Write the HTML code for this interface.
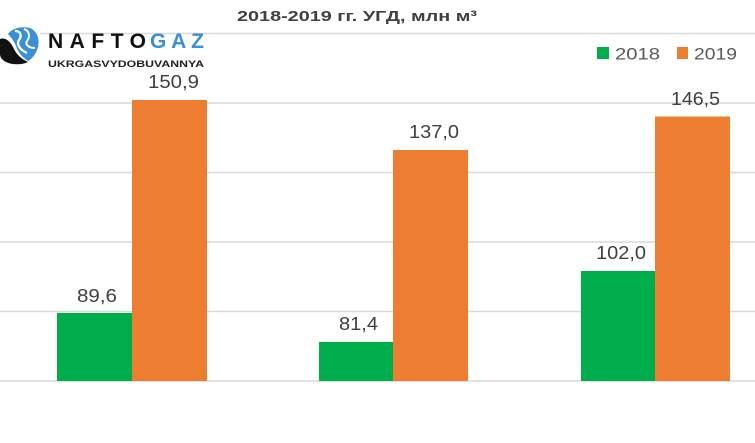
<!DOCTYPE html>
<html><head><meta charset="utf-8"><style>
html,body{margin:0;padding:0;background:#fff;}
svg{display:block;}
</style></head><body>
<svg width="755" height="443" viewBox="0 0 755 443" xmlns="http://www.w3.org/2000/svg">
<rect width="755" height="443" fill="#fff"/>
<g stroke="#d9d9d9" stroke-width="1.5">
<line x1="0" y1="33.5" x2="755" y2="33.5"/>
<line x1="0" y1="103" x2="755" y2="103"/>
<line x1="0" y1="172.5" x2="755" y2="172.5"/>
<line x1="0" y1="242" x2="755" y2="242"/>
<line x1="0" y1="311.5" x2="755" y2="311.5"/>
<line x1="0" y1="381" x2="755" y2="381"/>
</g>
<text x="357" y="21" text-anchor="middle" font-family="Liberation Sans, sans-serif" font-weight="bold" font-size="15" fill="#404040" textLength="240" lengthAdjust="spacingAndGlyphs">2018-2019 гг. УГД, млн м³</text>
<!-- logo -->
<rect x="0" y="27" width="40" height="38" fill="#fff"/>
<g>
<path d="M0 39 C5 37 10 41 13 47 C16 54 21 59 28 62 C22 65 12 65 6 62 C2 60 0 57 0 54 Z" fill="#111"/>
<path d="M8 34 C12 28 22 26 30 28 C37 31 40 39 38 47 C36 54 32 59 28 61 C22 57 18 52 16 46 C14 41 11 37 8 34 Z" fill="#3a8fd6"/>
<path d="M15 31 C21 31 22 36 19 40 C16 44 20 50 27 53" fill="none" stroke="#fff" stroke-width="2.3"/>
<path d="M24 29 C30 31 30 37 27 41 C25 44 28 48 35 48" fill="none" stroke="#fff" stroke-width="2"/>
</g>
<text x="48" y="48" font-family="Liberation Sans, sans-serif" font-weight="bold" font-size="21" fill="#111" textLength="98" lengthAdjust="spacing">NAFTO</text>
<text x="150" y="48" font-family="Liberation Sans, sans-serif" font-weight="bold" font-size="21" fill="#3a8fd6" textLength="54" lengthAdjust="spacing">GAZ</text>
<text x="48" y="67" font-family="Liberation Sans, sans-serif" font-weight="bold" font-size="9" fill="#222" textLength="156" lengthAdjust="spacingAndGlyphs">UKRGASVYDOBUVANNYA</text>
<!-- legend -->
<rect x="597" y="47" width="12" height="12" fill="#00ad4d"/>
<text x="615" y="59.5" font-family="Liberation Sans, sans-serif" font-size="17" fill="#595959" textLength="45" lengthAdjust="spacingAndGlyphs">2018</text>
<rect x="677" y="47" width="11" height="12" fill="#ed7d31"/>
<text x="694" y="59.5" font-family="Liberation Sans, sans-serif" font-size="17" fill="#595959" textLength="43" lengthAdjust="spacingAndGlyphs">2019</text>
<!-- bars -->
<rect x="57" y="313" width="75" height="68" fill="#00ad4d"/>
<rect x="132" y="100" width="75" height="281" fill="#ed7d31"/>
<rect x="319" y="342" width="74" height="39" fill="#00ad4d"/>
<rect x="393" y="150" width="75" height="231" fill="#ed7d31"/>
<rect x="581" y="271" width="74" height="110" fill="#00ad4d"/>
<rect x="655" y="116.5" width="75" height="264.5" fill="#ed7d31"/>
<!-- labels -->
<g font-family="Liberation Sans, sans-serif" font-size="18" fill="#404040">
<text x="77" y="302" textLength="40" lengthAdjust="spacingAndGlyphs">89,6</text>
<text x="148" y="88" textLength="51" lengthAdjust="spacingAndGlyphs">150,9</text>
<text x="339" y="330" textLength="39" lengthAdjust="spacingAndGlyphs">81,4</text>
<text x="409" y="138" textLength="50" lengthAdjust="spacingAndGlyphs">137,0</text>
<text x="596" y="259" textLength="50" lengthAdjust="spacingAndGlyphs">102,0</text>
<text x="671" y="105" textLength="49" lengthAdjust="spacingAndGlyphs">146,5</text>
</g>
</svg>
</body></html>
